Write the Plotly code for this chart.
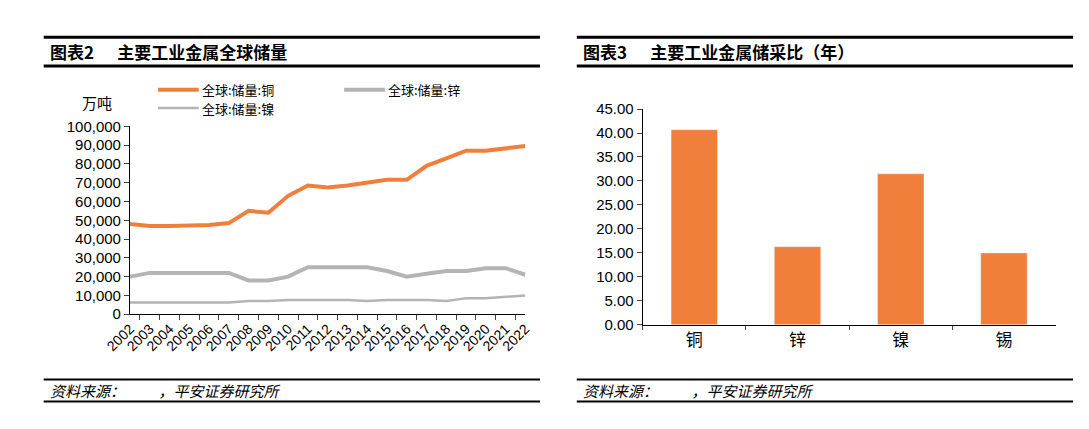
import plotly.graph_objects as go

years = [str(y) for y in range(2002, 2023)]
copper = [48000,47000,47000,47000,47500,48500,55000,54000,63000,68500,67500,68500,70000,71500,71500,79000,83000,87000,87000,88000,89500]
zinc = [20000,22000,22000,22000,22000,22000,18000,18000,20000,25000,25000,25000,25000,23000,20000,21500,23000,23000,24500,24500,21000]
nickel = [6200,6200,6200,6200,6200,6200,7000,7000,7600,7600,7600,7600,7000,7600,7600,7600,7000,8500,8500,9300,10000]
metals = ["铜", "锌", "镍", "锡"]
ratio = [40.7, 16.3, 31.5, 15.0]

F = "Noto Sans CJK SC"
fig = go.Figure()
fig.add_trace(go.Scatter(x=years, y=copper, name="全球:储量:铜", mode="lines", line=dict(color="#F07F3C", width=4)))
fig.add_trace(go.Scatter(x=years, y=zinc, name="全球:储量:锌", mode="lines", line=dict(color="#B4B4B4", width=4)))
fig.add_trace(go.Scatter(x=years, y=nickel, name="全球:储量:镍", mode="lines", line=dict(color="#B4B4B4", width=2.5)))
fig.add_trace(go.Bar(x=metals, y=ratio, marker_color="#F07F3C", width=0.45, xaxis="x2", yaxis="y2", showlegend=False))

# map reference pixel positions to paper coords (page has 8px body margin)
def px(x): return (x - 8) / 1073
def py(y): return 1 - (y - 8) / 413

fig.update_layout(
    autosize=True, margin=dict(l=0, r=0, t=0, b=0),
    paper_bgcolor="white", plot_bgcolor="white", showlegend=False,
    font=dict(family=F, size=14, color="black"),
    xaxis=dict(domain=[px(107), px(515)], anchor="y", type="category", tickangle=-45,
               showline=True, linecolor="black", ticks="outside", ticklen=5, tickson="boundaries",
               tickfont=dict(size=14, family="Liberation Sans")),
    yaxis=dict(domain=[py(318), py(122)], range=[0, 100000], dtick=10000, tickformat=",",
               showline=True, linecolor="black", ticks="outside", ticklen=5, showgrid=False,
               tickfont=dict(size=15, family="Liberation Sans")),
    xaxis2=dict(domain=[px(636), px(1062)], anchor="y2", showline=True, linecolor="black",
                ticks="outside", ticklen=4, tickson="boundaries",
                tickfont=dict(size=17, family=F)),
    yaxis2=dict(domain=[py(329), py(104)], anchor="x2", range=[0, 45], dtick=5, tickformat=".2f",
                showline=True, linecolor="black", ticks="outside", ticklen=5, showgrid=False,
                tickfont=dict(size=15, family="Liberation Sans")),
)
shapes = []
for x0, x1 in [(18, 530), (568, 1080)]:
    for y, w in [(29, 3), (59, 3), (386, 2), (409, 2)]:
        shapes.append(dict(type="line", xref="paper", yref="paper", x0=px(x0), x1=px(x1), y0=py(y), y1=py(y), line=dict(color="black", width=w)))
leg = [(136, 84, "#F07F3C", 4, "全球:储量:铜"), (328, 84, "#B4B4B4", 4, "全球:储量:锌"), (136, 103, "#B4B4B4", 2.5, "全球:储量:镍")]
ann = [
    dict(x=px(22), y=py(44), text="<b>图表2      主要工业金属全球储量</b>", font=dict(size=17)),
    dict(x=px(572), y=py(44), text="<b>图表3      主要工业金属储采比（年）</b>", font=dict(size=17)),
    dict(x=px(55), y=py(97), text="万吨", font=dict(size=15)),
    dict(x=px(22), y=py(398), text="<i>资料来源：          ，平安证券研究所</i>", font=dict(size=15)),
    dict(x=px(572), y=py(398), text="<i>资料来源：          ，平安证券研究所</i>", font=dict(size=15)),
]
for x, y, c, w, t in leg:
    shapes.append(dict(type="line", xref="paper", yref="paper", x0=px(x), x1=px(x+42), y0=py(y), y1=py(y), line=dict(color=c, width=w)))
    ann.append(dict(x=px(x+43), y=py(y), text=t, font=dict(size=13)))
for a in ann:
    a.update(xref="paper", yref="paper", xanchor="left", yanchor="middle", showarrow=False)
fig.update_layout(shapes=shapes, annotations=ann)
fig.write_html("out.html", default_width="100%", default_height="100%")
